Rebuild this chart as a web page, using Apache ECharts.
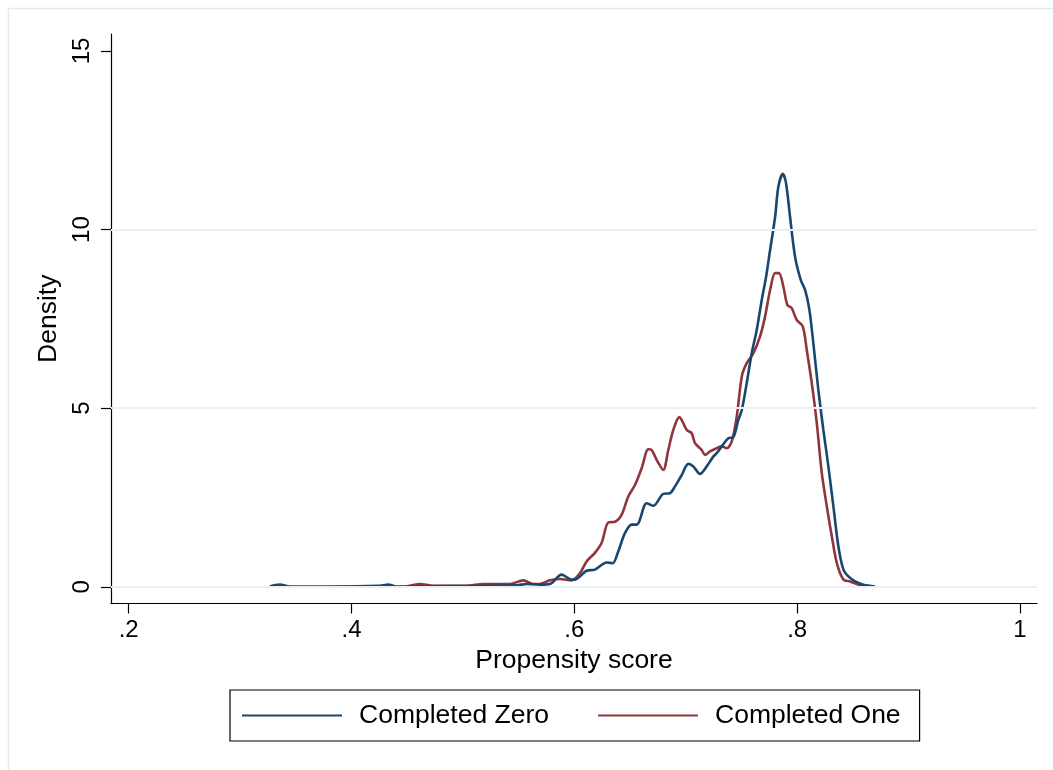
<!DOCTYPE html>
<html>
<head>
<meta charset="utf-8">
<script src="https://cdn.jsdelivr.net/npm/echarts@6/dist/echarts.min.js"></script>
<style>
html,body{margin:0;padding:0;background:#fff;}
#c{width:1053px;height:770px;}
</style>
</head>
<body>
<div id="c"></div>
<script>
// Propensity score grid (x) and kernel density values (y)
const zeroX = [0.3266,0.3356,0.3446,0.3805,0.4254,0.4329,0.4404,0.4883,0.5482,0.5572,0.5691,0.5781,0.5886,0.5976,0.6005,0.6110,0.6185,0.6290,0.6344,0.6394,0.6454,0.6515,0.6560,0.6649,0.6709,0.6798,0.6858,0.6903,0.6964,0.7023,0.7068,0.7128,0.7188,0.7248,0.7278,0.7323,0.7382,0.7427,0.7472,0.7503,0.7547,0.7592,0.7637,0.7682,0.7721,0.7757,0.7802,0.7831,0.7871,0.7900,0.7936,0.7981,0.8032,0.8071,0.8110,0.8145,0.8190,0.8235,0.8280,0.8325,0.8370,0.8415,0.8460,0.8520,0.8594,0.8700];
const zeroY = [0.01,0.06,0.01,0.01,0.03,0.06,0.01,0.02,0.04,0.08,0.06,0.08,0.34,0.20,0.20,0.45,0.48,0.68,0.66,0.99,1.50,1.74,1.74,2.34,2.27,2.60,2.62,2.81,3.13,3.44,3.37,3.16,3.37,3.65,3.74,3.93,4.16,4.19,4.67,4.95,5.70,6.54,7.19,8.03,8.68,9.43,10.36,11.20,11.56,11.30,10.36,9.24,8.59,8.31,7.75,6.82,5.51,4.39,3.37,2.25,1.13,0.48,0.29,0.15,0.06,0.01];
const oneX = [0.4494,0.4613,0.4733,0.5033,0.5182,0.5422,0.5541,0.5631,0.5691,0.5781,0.5871,0.5976,0.6050,0.6110,0.6185,0.6245,0.6304,0.6365,0.6425,0.6484,0.6544,0.6604,0.6664,0.6694,0.6739,0.6798,0.6843,0.6888,0.6942,0.7009,0.7053,0.7083,0.7143,0.7173,0.7218,0.7278,0.7323,0.7368,0.7413,0.7458,0.7503,0.7547,0.7607,0.7667,0.7712,0.7757,0.7802,0.7837,0.7876,0.7912,0.7951,0.7996,0.8050,0.8086,0.8131,0.8176,0.8221,0.8266,0.8311,0.8356,0.8415,0.8475,0.8535,0.8594];
const oneY = [0.01,0.08,0.03,0.03,0.08,0.08,0.18,0.08,0.08,0.18,0.22,0.18,0.38,0.71,0.95,1.23,1.80,1.82,2.02,2.53,2.85,3.32,3.85,3.83,3.55,3.27,3.83,4.39,4.75,4.39,4.30,4.02,3.83,3.69,3.79,3.88,3.93,3.88,4.07,4.77,5.89,6.26,6.54,7.01,7.57,8.31,8.78,8.78,8.40,7.89,7.80,7.47,7.29,6.63,5.70,4.58,3.18,2.25,1.41,0.66,0.20,0.15,0.08,0.01];
const xTicks = [0.2,0.4,0.6,0.8,1];
const xTickLabels = ['.2','.4','.6','.8','1'];
const yTicks = [0,5,10,15];
const yGrid = [0,5,10];
const seriesNames = ['Completed Zero','Completed One'];

const FONT = '"Liberation Sans", Arial, Helvetica, sans-serif';
const chart = echarts.init(document.getElementById('c'), null, {renderer:'canvas'});
const pair = (xs, ys) => xs.map((x,i)=>[x, ys[i]]);

chart.setOption({
  animation:false,
  backgroundColor:'#ffffff',
  graphic:[{type:'rect', shape:{x:8.5,y:8.5,width:1100,height:800}, style:{fill:'none', stroke:'#e4ebeb', lineWidth:1.5}, z:-1}],
  grid:{left:111, right:16, top:34, bottom:166.5},
  xAxis:{
    type:'value', min:0.1841, max:1.01526,
    name:'Propensity score', nameLocation:'middle', nameGap:42,
    nameTextStyle:{fontFamily:FONT, fontSize:26.5, color:'#000'},
    axisLine:{show:true, onZero:false, lineStyle:{color:'#000', width:1.2}},
    axisTick:{show:true, customValues:xTicks, length:10, lineStyle:{color:'#000', width:1.2}},
    axisLabel:{customValues:xTicks, margin:15, fontFamily:FONT, fontSize:24, color:'#000',
      formatter:(v)=>{const i=xTicks.findIndex(t=>Math.abs(t-v)<1e-9);return i>=0?xTickLabels[i]:'';}},
    splitLine:{show:false}
  },
  yAxis:{
    type:'value', min:-0.468, max:15.476,
    name:'Density', nameLocation:'middle', nameGap:44, nameRotate:90,
    nameTextStyle:{fontFamily:FONT, fontSize:26.5, color:'#000'},
    axisLine:{show:true, onZero:false, lineStyle:{color:'#000', width:1.2}},
    axisTick:{show:true, customValues:yTicks, length:10, lineStyle:{color:'#000', width:1.2}},
    axisLabel:{customValues:yTicks, rotate:90, margin:17, fontFamily:FONT, fontSize:24, color:'#000'},
    splitLine:{show:false}
  },
  legend:{
    show:true, data:seriesNames, left:230, top:690, orient:'horizontal',
    icon:'rect', itemWidth:100, itemHeight:2.2, itemGap:49,
    borderColor:'#000', borderWidth:1.2, padding:[12,19,12,12],
    textStyle:{fontFamily:FONT, fontSize:26.5, color:'#000', padding:[0,0,0,12]}
  },
  series:[
    {type:'line', name:'grid', data:[], silent:true, z:1,
      markLine:{silent:true, symbol:'none', label:{show:false}, animation:false,
        lineStyle:{color:'#e9eff2', width:2, type:'solid'},
        data:yGrid.map(v=>({yAxis:v}))}},
    {type:'line', name:seriesNames[0], data:pair(zeroX, zeroY), smooth:0.3, symbol:'none', z:3,
      color:'#1a476f', lineStyle:{color:'#1a476f', width:2.6}},
    {type:'line', name:seriesNames[1], data:pair(oneX, oneY), smooth:0.3, symbol:'none', z:2,
      color:'#90353b', lineStyle:{color:'#90353b', width:2.6}}
  ]
});
</script>
</body>
</html>
